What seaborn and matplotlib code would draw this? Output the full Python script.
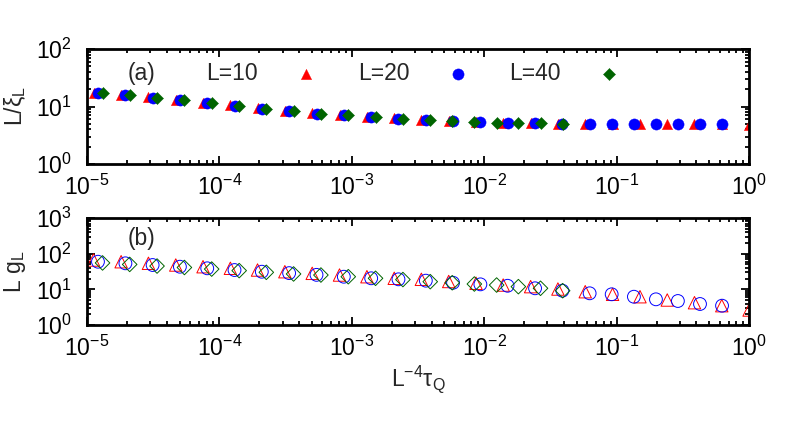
"""Two-panel log-log scaling collapse: L/xi_L (a) and L g_L (b) vs L^-4 tau_Q."""
import numpy as np
import matplotlib
matplotlib.use("Agg")
import matplotlib.pyplot as plt
import matplotlib.ticker as mticker
import seaborn as sns

sns.set_theme(style="ticks")
plt.rcParams["font.family"] = ["Liberation Sans", "DejaVu Sans"]
plt.rcParams["axes.unicode_minus"] = False
plt.rcParams["mathtext.fontset"] = "custom"
plt.rcParams["mathtext.rm"] = "Liberation Sans"

FS = 16.5

# ── Data ──────────────────────────────────────────────────────────────────────
labels = ["L=10", "L=20", "L=40"]

x_L10 = [1.12e-5, 1.81e-5, 2.91e-5, 4.68e-5, 7.52e-5, 1.21e-4, 1.94e-4, 3.12e-4,
         5.02e-4, 8.07e-4, 1.30e-3, 2.09e-3, 3.35e-3, 5.39e-3, 8.67e-3, 1.39e-2,
         2.24e-2, 3.60e-2, 5.79e-2, 9.31e-2, 0.150, 0.241, 0.387, 0.622, 1.0]
x_L20 = [1.21e-5, 1.95e-5, 3.13e-5, 5.03e-5, 8.09e-5, 1.30e-4, 2.09e-4, 3.36e-4,
         5.41e-4, 8.70e-4, 1.40e-3, 2.25e-3, 3.62e-3, 5.81e-3, 9.35e-3, 1.50e-2,
         2.42e-2, 3.89e-2, 6.25e-2, 9.17e-2, 0.135, 0.198, 0.290, 0.426, 0.625]
x_L40 = [1.31e-5, 2.10e-5, 3.38e-5, 5.44e-5, 8.74e-5, 1.41e-4, 2.26e-4, 3.63e-4,
         5.84e-4, 9.40e-4, 1.51e-3, 2.43e-3, 3.91e-3, 5.73e-3, 8.42e-3, 1.24e-2,
         1.81e-2, 2.66e-2, 3.91e-2]

# panel (a): L / xi_L
xi_L10 = [17.4, 15.9, 14.5, 13.0, 11.7, 10.5, 9.3, 8.45, 7.6, 7.1, 6.65, 6.2, 5.8,
          5.65, 5.45, 5.25, 5.1, 5.05, 5.0, 4.97, 4.95, 4.92, 4.9, 4.88, 4.85]
xi_L20 = [17.1, 15.7, 14.3, 12.9, 11.5, 10.3, 9.2, 8.3, 7.55, 7.05, 6.55, 6.15, 5.78,
          5.62, 5.42, 5.22, 5.1, 5.05, 5.0, 4.98, 4.97, 4.95, 4.92, 4.9, 4.88]
xi_L40 = [17.0, 15.6, 14.1, 12.8, 11.4, 10.2, 9.1, 8.2, 7.5, 7.0, 6.5, 6.1, 5.75,
          5.62, 5.45, 5.25, 5.15, 5.1, 5.05]

# panel (b): L g_L
g_L10 = [66.4, 59.5, 53.7, 48.1, 43.1, 38.9, 34.8, 31.2, 28.1, 25.2, 22.6, 20.4, 19.1,
         16.6, 14.8, 13.2, 11.9, 10.2, 8.58, 7.26, 6.21, 5.02, 4.22, 3.48, 2.63]
g_L20 = [59.5, 53.7, 48.1, 43.1, 38.9, 34.8, 31.2, 28.5, 25.5, 22.6, 20.4, 19.1, 17.5,
         15.3, 13.8, 12.6, 10.7, 9.16, 7.74, 7.26, 6.21, 5.25, 4.71, 3.88, 3.48]
g_L40 = [55.0, 50.0, 45.0, 41.0, 37.0, 33.5, 30.0, 27.0, 25.2, 22.6, 20.4, 18.8, 16.4,
         15.3, 14.1, 13.2, 11.9, 10.7, 9.16]

colors = ["#ff0000", "#0000ff", "#006400"]
markers = ["^", "o", "D"]
sizes_a = [55, 65, 38]
sizes_b = [80, 85, 55]


def _style(ax, ylim):
    ax.set_xscale("log")
    ax.set_yscale("log")
    ax.set_xlim(1e-5, 1.0)
    ax.set_ylim(*ylim)
    for axis in (ax.xaxis, ax.yaxis):
        axis.set_major_locator(mticker.LogLocator(base=10, numticks=20))
        axis.set_minor_locator(mticker.LogLocator(base=10, subs=np.arange(2, 10), numticks=20))
        axis.set_minor_formatter(mticker.NullFormatter())
    ax.tick_params(which="both", direction="in", top=True, right=True,
                   width=1.3, color="black")
    ax.tick_params(which="major", length=6, labelsize=FS, labelcolor="black")
    ax.tick_params(which="minor", length=3)
    ax.tick_params(axis="x", pad=8)
    ax.tick_params(axis="y", pad=11)
    for sp in ax.spines.values():
        sp.set_linewidth(2.0)
        sp.set_color("black")
    ax.grid(False)


fig = plt.figure(figsize=(7.91, 4.24), dpi=100)
ax_a = fig.add_axes([0.110, 0.6132, 0.837, 0.2712])
ax_b = fig.add_axes([0.110, 0.2335, 0.837, 0.2523])

xs = [x_L10, x_L20, x_L40]
ya = [xi_L10, xi_L20, xi_L40]
yb = [g_L10, g_L20, g_L40]

# ── Panel (a): filled markers ─────────────────────────────────────────────────
for x, y, c, m, s, lab in zip(xs, ya, colors, markers, sizes_a, labels):
    sns.scatterplot(x=x, y=y, ax=ax_a, marker=m, s=s, color=c,
                    edgecolor=c, linewidth=0.3, label=lab, legend=False)
_style(ax_a, (1, 100))
ax_a.set_xlabel("")
ax_a.set_ylabel("L/ξ$_{\\mathdefault{L}}$", fontsize=FS)
ax_a.yaxis.set_label_coords(-0.089, 0.5)
ax_a.text(0.0816, 0.783, "(a)", transform=ax_a.transAxes, fontsize=FS,
          ha="center", va="center")
ax_a.legend(loc="center left", bbox_to_anchor=(0.180, 0.783), ncol=3,
            frameon=False, markerfirst=False, fontsize=FS, borderpad=0,
            borderaxespad=0, handlelength=1.6, handletextpad=1.3,
            columnspacing=1.47, scatterpoints=1)

# ── Panel (b): open markers ───────────────────────────────────────────────────
for x, y, c, m, s in zip(xs, yb, colors, markers, sizes_b):
    sns.scatterplot(x=x, y=y, ax=ax_b, marker=m, s=s, facecolors="none",
                    edgecolor=c, linewidth=0.7, legend=False)
_style(ax_b, (1, 1000))
ax_b.set_ylabel("L g$_{\\mathdefault{L}}$", fontsize=FS)
ax_b.yaxis.set_label_coords(-0.089, 0.5)
ax_b.set_xlabel("L$^{\\mathdefault{-4}}$τ$_{\\mathdefault{Q}}$", fontsize=FS)
ax_b.xaxis.set_label_coords(0.5, -0.36)
ax_b.text(0.0816, 0.813, "(b)", transform=ax_b.transAxes, fontsize=FS,
          ha="center", va="center")

fig.savefig("out.png", dpi=100)
